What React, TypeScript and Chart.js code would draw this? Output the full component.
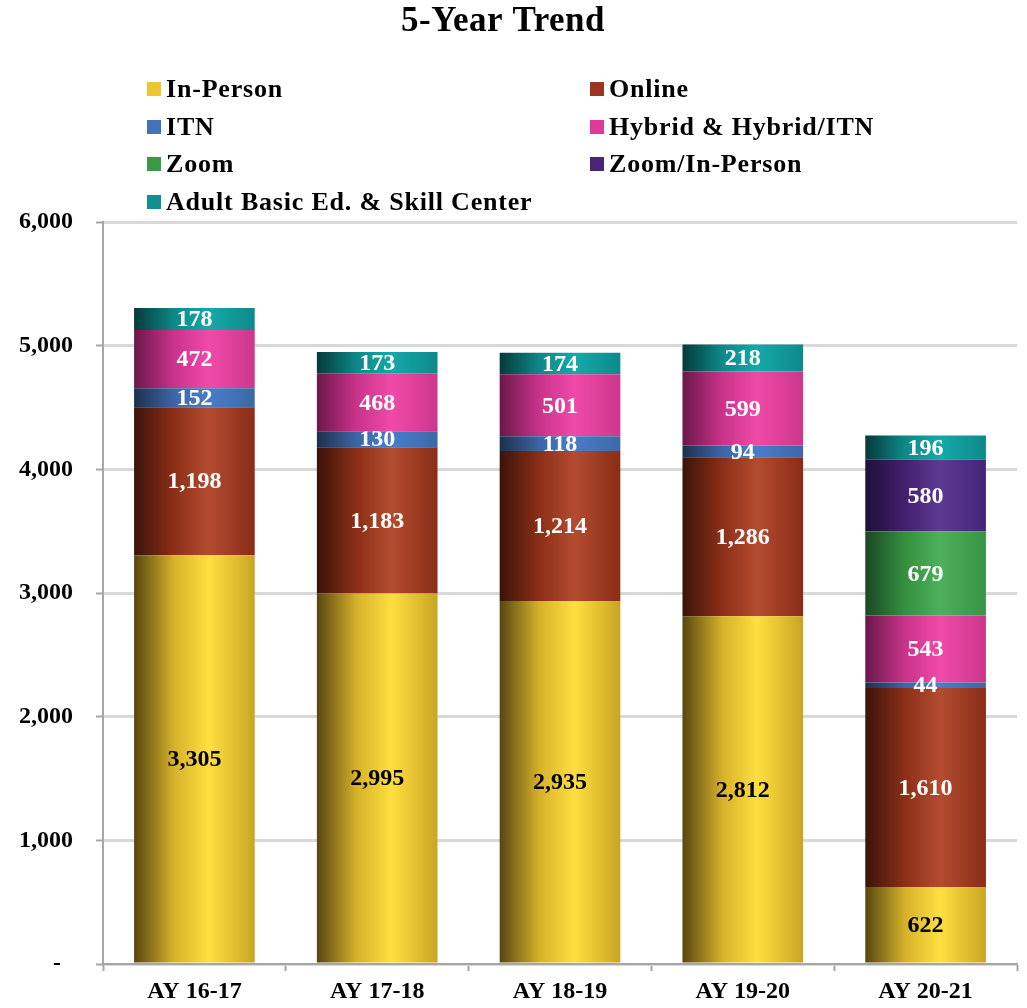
import React, { useEffect, useRef } from "react";
import { Chart, registerables } from "chart.js";

Chart.register(...registerables);

const categories = ["AY 16-17", "AY 17-18", "AY 18-19", "AY 19-20", "AY 20-21"];
const inPerson = [3305, 2995, 2935, 2812, 622];
const online = [1198, 1183, 1214, 1286, 1610];
const itn = [152, 130, 118, 94, 44];
const hybrid = [472, 468, 501, 599, 543];
const zoom = [null, null, null, null, 679];
const zoomInPerson = [null, null, null, null, 580];
const adultBasic = [178, 173, 174, 218, 196];
const seriesNames = [
  "In-Person",
  "Online",
  "ITN",
  "Hybrid & Hybrid/ITN",
  "Zoom",
  "Zoom/In-Person",
  "Adult Basic Ed. & Skill Center",
];
const yTickValues = [0, 1000, 2000, 3000, 4000, 5000, 6000];

// style: [legend swatch, left, mid, peak, right]
const seriesStyles = [
  ["#eec52e", "#574610", "#d6b22a", "#ffdf40", "#c9a524"],
  ["#9a3520", "#3a1309", "#8c2f18", "#b34c30", "#8a2c17"],
  ["#4472b8", "#1d2f4c", "#3c66a6", "#4a7dc8", "#3d68a8"],
  ["#dd3a98", "#6a184a", "#c9338a", "#f04aa8", "#cc378c"],
  ["#3a9a48", "#1a4822", "#349040", "#4eb05c", "#389446"],
  ["#4a2478", "#1f1038", "#43206e", "#5c3a92", "#45247a"],
  ["#129090", "#053a3a", "#0e8888", "#17a8a8", "#0c8a8a"],
];
const labelColors = ["#000000", "#ffffff", "#ffffff", "#ffffff", "#ffffff", "#ffffff", "#ffffff"];

const FONT = "'Liberation Serif', 'Times New Roman', serif";
const BAR_FRACTION = 0.66;

function makeFill(style: string[]) {
  return (ctx: any) => {
    const chart = ctx.chart;
    const xs = chart.scales && chart.scales.x;
    if (!xs || ctx.dataIndex == null) return style[0];
    const cx = xs.getPixelForValue(ctx.dataIndex);
    const half = ((xs.right - xs.left) / categories.length) * BAR_FRACTION / 2;
    if (!isFinite(cx) || !isFinite(half) || half <= 0) return style[0];
    const g = chart.ctx.createLinearGradient(cx - half, 0, cx + half, 0);
    g.addColorStop(0, style[1]);
    g.addColorStop(0.33, style[2]);
    g.addColorStop(0.62, style[3]);
    g.addColorStop(1, style[4]);
    return g;
  };
}

const headerPlugin = {
  id: "header",
  afterDraw(chart: any) {
    const c = chart.ctx;
    c.save();
    c.fillStyle = "#000";
    c.textBaseline = "middle";
    c.textAlign = "center";
    c.font = `bold 35px ${FONT}`;
    try { (c as any).letterSpacing = "0.5px"; } catch (e) {}
    c.fillText("5-Year Trend", 503, 22);
    c.font = `bold 26px ${FONT}`;
    try { (c as any).letterSpacing = "0.8px"; } catch (e) {}
    c.textAlign = "left";
    const colX = [147, 590];
    const rowY = [89, 127, 164, 202];
    seriesNames.forEach((name, i) => {
      const x = colX[i % 2];
      const y = rowY[Math.floor(i / 2)];
      c.fillStyle = seriesStyles[i][0];
      c.fillRect(x, y - 7, 14, 14);
      c.fillStyle = "#000";
      c.fillText(name, x + 19, y + 1);
    });
    try { (c as any).letterSpacing = "0px"; } catch (e) {}
    c.restore();
  },
};

const valueLabelPlugin = {
  id: "valueLabels",
  afterDatasetsDraw(chart: any) {
    const c = chart.ctx;
    c.save();
    c.font = `bold 24px ${FONT}`;
    c.textAlign = "center";
    c.textBaseline = "middle";
    chart.data.datasets.forEach((ds: any, di: number) => {
      const meta = chart.getDatasetMeta(di);
      meta.data.forEach((el: any, i: number) => {
        const v = ds.data[i];
        if (v == null) return;
        c.fillStyle = labelColors[di];
        c.fillText(Number(v).toLocaleString("en-US"), el.x, (el.y + el.base) / 2 + 1);
      });
    });
    c.restore();
  },
};

export default function App() {
  const ref = useRef<HTMLCanvasElement | null>(null);
  useEffect(() => {
    if (!ref.current) return;
    const seriesData = [inPerson, online, itn, hybrid, zoom, zoomInPerson, adultBasic];
    const chart = new Chart(ref.current, {
      type: "bar",
      data: {
        labels: categories,
        datasets: seriesData.map((d, i) => ({
          label: seriesNames[i],
          data: d as any,
          backgroundColor: makeFill(seriesStyles[i]) as any,
          borderWidth: 0,
          categoryPercentage: BAR_FRACTION,
          barPercentage: 1,
        })),
      },
      options: {
        responsive: false,
        animation: false,
        layout: { padding: { top: 222, left: 0, right: 10, bottom: 0 } },
        plugins: {
          legend: { display: false },
          title: { display: false },
          tooltip: { enabled: false },
        },
        scales: {
          x: {
            stacked: true,
            afterFit: (s: any) => {
              s.height = 44;
            },
            border: { color: "#a6a6a6", width: 2 },
            grid: {
              drawOnChartArea: false,
              drawTicks: true,
              tickLength: 7,
              tickColor: "#a6a6a6",
              tickWidth: 2,
            },
            ticks: {
              color: "#000",
              padding: 6,
              font: { family: FONT, size: 24, weight: "bold" },
            },
          },
          y: {
            stacked: true,
            min: 0,
            max: 6000,
            afterFit: (s: any) => {
              s.width = 103;
            },
            afterBuildTicks: (s: any) => {
              s.ticks = yTickValues.map((v) => ({ value: v }));
            },
            border: { color: "#a6a6a6", width: 2 },
            grid: {
              color: "#d9d9d9",
              lineWidth: 3,
              drawTicks: true,
              tickLength: 7,
              tickColor: "#a6a6a6",
              tickWidth: 2,
            },
            ticks: {
              color: "#000",
              padding: 23,
              font: { family: FONT, size: 24, weight: "bold" },
              callback: (v: any) => (Number(v) === 0 ? "-  " : Number(v).toLocaleString("en-US")),
            },
          },
        },
      },
      plugins: [headerPlugin, valueLabelPlugin],
    });
    return () => chart.destroy();
  }, []);
  return (
    <div style={{ position: "absolute", left: 0, top: 0, width: 1027, height: 1008, background: "#fff" }}>
      <canvas ref={ref} width={1027} height={1008} style={{ display: "block" }} />
    </div>
  );
}
